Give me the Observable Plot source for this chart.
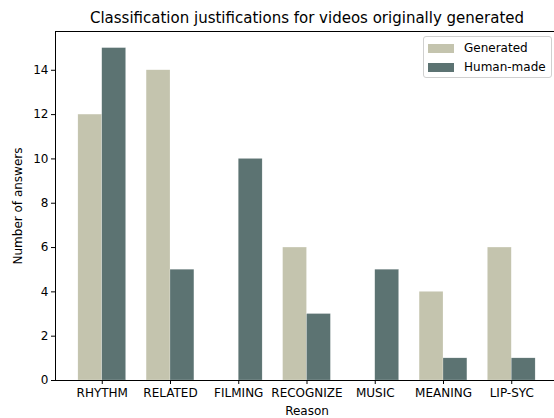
<!DOCTYPE html>
<html>
<head>
<meta charset="utf-8">
<script src="https://cdn.jsdelivr.net/npm/d3@7"></script>
<script src="https://cdn.jsdelivr.net/npm/@observablehq/plot@0.6"></script>
<style>
  html, body { margin: 0; padding: 0; background: white; overflow: hidden; }
  #wrap { position: relative; width: 554px; height: 418px; font-family: "DejaVu Sans", sans-serif; }
  #legend { position: absolute; left: 423px; top: 36px; width: 129px; height: 42px; border: 1px solid #d0d0d0; border-radius: 3px; background: rgba(255,255,255,0.8); font-size: 12px; color: #000; box-sizing: border-box; }
  .row { position: absolute; left: 4px; display: flex; align-items: center; }
  .sw { width: 26px; height: 9px; margin-right: 10px; }
</style>
</head>
<body>
<div id="wrap"></div>
<script>
const reasons = ["RHYTHM", "RELATED", "FILMING", "RECOGNIZE", "MUSIC", "MEANING", "LIP-SYC"];
const seriesNames = ["Generated", "Human-made"];
const generated = [12, 14, 0, 6, 0, 4, 6];
const humanMade = [15, 5, 10, 3, 5, 1, 1];
const colors = ["#c4c4ae", "#5c7372"];
const yTicks = [0, 2, 4, 6, 8, 10, 12, 14];
const title = "Classification justifications for videos originally generated";

const barWidth = 0.35;
const rows = [];
[generated, humanMade].forEach((vals, s) => {
  vals.forEach((v, i) => {
    const x1 = i + (s === 0 ? -barWidth : 0);
    rows.push({series: seriesNames[s], reason: reasons[i], idx: i, x1, x2: x1 + barWidth, value: v});
  });
});

const font = "DejaVu Sans, sans-serif";
const plot = Plot.plot({
  width: 554,
  height: 418,
  marginLeft: 55,
  marginRight: -4,
  marginTop: 31,
  marginBottom: 38,
  style: {fontFamily: font, fontSize: "12px", color: "#000", background: "white", overflow: "hidden"},
  x: {
    type: "linear",
    domain: [-0.685, reasons.length - 1 + 0.685],
    ticks: reasons.map((_, i) => i),
    tickFormat: i => reasons[i],
    tickSize: 4,
    tickPadding: 4,
    label: "Reason",
    labelAnchor: "center",
    labelOffset: 34,
    labelArrow: "none",
    line: false
  },
  y: {
    domain: [0, 15.75],
    ticks: yTicks,
    tickSize: 4,
    tickPadding: 3,
    label: "Number of answers",
    labelAnchor: "center",
    labelOffset: 42,
    labelArrow: "none",
    line: false
  },
  color: {domain: seriesNames, range: colors},
  marks: [
    Plot.rectY(rows, {x1: "x1", x2: "x2", y: "value", fill: "series", stroke: "white", strokeWidth: 0.4, strokeOpacity: 0.5}),
    Plot.frame({stroke: "#000", strokeWidth: 1}),
    Plot.text([title], {frameAnchor: "top", dy: -9, lineAnchor: "bottom", fontSize: 15, fill: "#000", text: d => d})
  ]
});

document.getElementById("wrap").appendChild(plot);

const legend = document.createElement("div");
legend.id = "legend";
seriesNames.forEach((name, s) => {
  const row = document.createElement("div");
  row.className = "row";
  row.style.top = (s === 0 ? 4 : 23) + "px";
  const sw = document.createElement("div");
  sw.className = "sw";
  sw.style.background = colors[s];
  const label = document.createElement("span");
  label.textContent = name;
  row.appendChild(sw);
  row.appendChild(label);
  legend.appendChild(row);
});
document.getElementById("wrap").appendChild(legend);
</script>
</body>
</html>
